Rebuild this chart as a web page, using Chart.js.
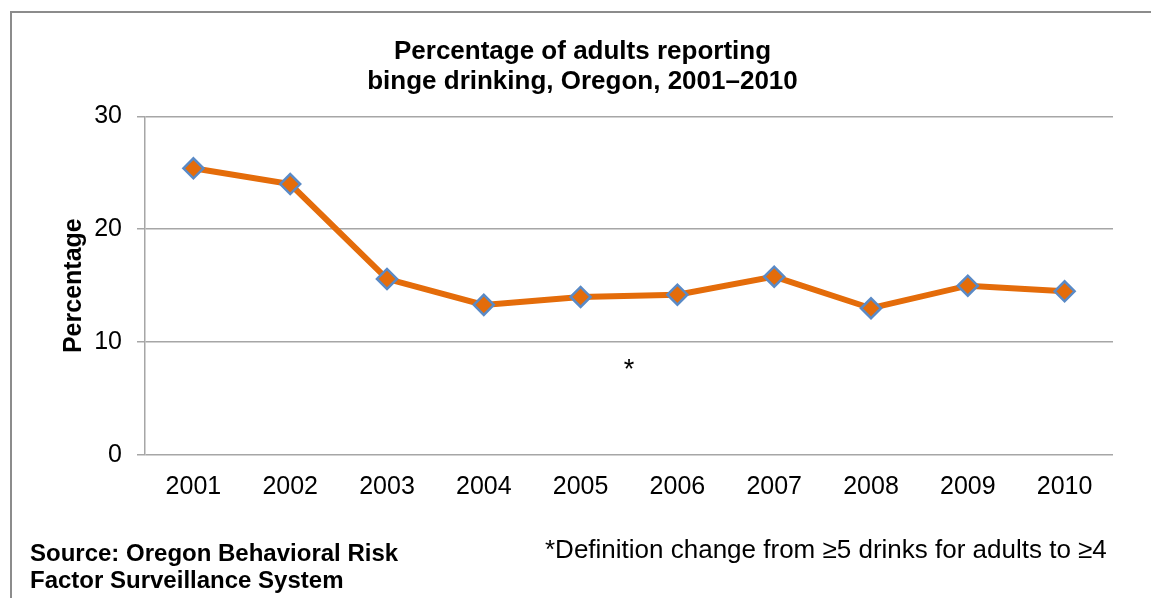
<!DOCTYPE html>
<html>
<head>
<meta charset="utf-8">
<script src="https://cdn.jsdelivr.net/npm/chart.js@4.4.0/dist/chart.umd.min.js"></script>
<style>
  html, body { margin: 0; padding: 0; background: #fff; overflow: hidden; }
  #wrap { position: relative; width: 1151px; height: 598px; }
  #frame { position: absolute; left: 10px; top: 11px; width: 1200px; height: 700px;
           border: 2px solid #8c8c8c; box-sizing: border-box; pointer-events: none; }
  .note { position: absolute; font-family: "Liberation Sans", Arial, sans-serif;
          color: #000; line-height: 27px; }
  #source { left: 30px; top: 539px; font-size: 24px; font-weight: bold; }
  #defn { left: 545px; top: 536px; font-size: 26px; }
</style>
</head>
<body>
<div id="wrap">
  <canvas id="myChart" width="1151" height="598"></canvas>
  <div id="frame"></div>
  <div class="note" id="source">Source: Oregon Behavioral Risk<br>Factor Surveillance System</div>
  <div class="note" id="defn">*Definition change from ≥5 drinks for adults to ≥4</div>
</div>

<script>
// data
var years = ['2001', '2002', '2003', '2004', '2005', '2006', '2007', '2008', '2009', '2010'];
var bingePct = [25.4, 24.0, 15.6, 13.3, 14.0, 14.2, 15.8, 13.0, 15.0, 14.5];
var yTicks = [0, 10, 20, 30];
// asterisk sits between 2005 and 2006
var noteAt = { x: 4.5, y: 7.5, text: '*' };

var font = '"Liberation Sans", Arial, sans-serif';

// draws the "*" marker through the chart's scales
var asteriskPlugin = {
    id: 'asterisk',
    afterDatasetsDraw: function(chart) {
        var ctx = chart.ctx;
        var x = chart.scales.x.getPixelForValue(noteAt.x);
        var y = chart.scales.y.getPixelForValue(noteAt.y);
        ctx.save();
        ctx.font = '27px ' + font;
        ctx.fillStyle = '#000';
        ctx.textAlign = 'center';
        ctx.textBaseline = 'middle';
        ctx.fillText(noteAt.text, x, y);
        ctx.restore();
    }
};

var ctx = document.getElementById('myChart').getContext('2d');
var myChart = new Chart(ctx, {
    type: 'line',
    data: {
        labels: years,
        datasets: [{
            label: 'Binge drinking',
            data: bingePct,
            borderColor: '#E46C0A',
            borderWidth: 6,
            backgroundColor: '#E46C0A',
            pointStyle: 'rectRot',
            pointRadius: 10,
            pointBorderColor: '#5A8AC6',
            pointBorderWidth: 2.5,
            pointBackgroundColor: '#E46C0A',
            tension: 0
        }]
    },
    options: {
        responsive: false,
        animation: false,
        layout: { padding: { left: 52, right: 38, top: 22, bottom: 100 } },
        plugins: {
            legend: { display: false },
            tooltip: { enabled: false },
            title: {
                display: true,
                text: ['Percentage of adults reporting', 'binge drinking, Oregon, 2001\u20132010'],
                color: '#000',
                font: { family: font, size: 26, weight: 'bold', lineHeight: 1.18 },
                padding: { top: 14, bottom: 19 }
            }
        },
        scales: {
            x: {
                offset: true,
                grid: { display: false, drawTicks: false },
                border: { display: false },
                ticks: { color: '#000', font: { family: font, size: 25 }, padding: 17 },
                afterFit: function(scale) { scale.height = 43; }
            },
            y: {
                min: 0,
                max: 30,
                afterBuildTicks: function(scale) {
                    scale.ticks = yTicks.map(function(v) { return { value: v }; });
                },
                grid: { color: '#a6a6a6', lineWidth: 1.5, tickLength: 8 },
                border: { color: '#a6a6a6', width: 1.5 },
                ticks: { color: '#000', font: { family: font, size: 25 }, padding: 15 },
                title: {
                    display: true,
                    text: 'Percentage',
                    color: '#000',
                    font: { family: font, size: 25, weight: 'bold' },
                    padding: { top: 7, bottom: 0 }
                },
                afterFit: function(scale) { scale.width = 145 - 52; }
            }
        }
    },
    plugins: [asteriskPlugin]
});
</script>
</body>
</html>
